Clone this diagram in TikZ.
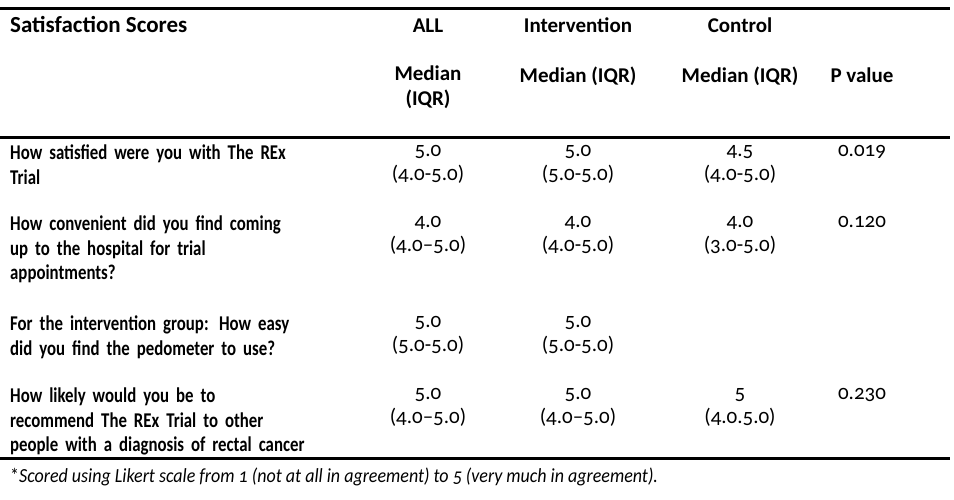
\documentclass[tikz,border=0pt]{standalone}
\usepackage{fontspec}
\setmainfont{Carlito}[Numbers=OldStyle]
\newfontfamily\qfont{Carlito}[FakeStretch=0.8,Numbers=OldStyle]
\newfontfamily\ffont{Carlito}[FakeStretch=0.9,Numbers=OldStyle]
\newcommand\fl[1]{\makebox[340pt][s]{#1}}
\begin{document}
\begin{tikzpicture}[x=1pt,y=-1pt,
  rule/.style={line width=3pt},
  q/.style={anchor=north west,inner sep=0,text width=340pt,align=left,font=\qfont\fontsize{21}{24.5}\selectfont\bfseries},
  h/.style={anchor=base,inner sep=0,align=center,font=\fontsize{21}{25}\selectfont\bfseries},
  v/.style={anchor=base,inner sep=0,align=center,font=\fontsize{21}{24.5}\selectfont}]
\useasboundingbox (0,0) rectangle (954,499);
\draw[rule] (0,8) -- (950,8);
\draw[rule] (0,137) -- (950,137);
\draw[rule] (0,458) -- (950,458);
\node[h,anchor=base west,font=\fontsize{23}{25}\selectfont\bfseries] (t) at (10,32) {Satisfaction Scores};
\node[h] (hall) at (428,32) {ALL};
\node[h] (hint) at (578,32) {Intervention};
\node[h] (hcon) at (740,32) {Control};
\node[h,anchor=north] (mall) at (428,66) {Median\\(IQR)};
\node[h] (mint) at (578,82) {Median (IQR)};
\node[h] (mcon) at (740,82) {Median (IQR)};
\node[h] (hp) at (862,82) {P value};
\node[q] (q1) at (10,145) {\fl{How satisfied were you with The REx}\\Trial};
\node[q] (q2) at (10,216) {\fl{How convenient did you find coming}\\\fl{up to the hospital for trial}\\appointments?};
\node[q] (q3) at (10,316) {\fl{For the intervention group: How easy}\\did you find the pedometer to use?};
\node[q] (q4) at (10,388) {\fl{How likely would you be to}\\\fl{recommend The REx Trial to other}\\people with a diagnosis of rectal cancer};
\node[v,anchor=north] (a1) at (428,145) {5.0\\(4.0-5.0)};
\node[v,anchor=north] (i1) at (578,145) {5.0\\(5.0-5.0)};
\node[v,anchor=north] (c1) at (740,145) {4.5\\(4.0-5.0)};
\node[v,anchor=north] (p1) at (862,145) {0.019};
\node[v,anchor=north] (a2) at (428,216) {4.0\\(4.0--5.0)};
\node[v,anchor=north] (i2) at (578,216) {4.0\\(4.0-5.0)};
\node[v,anchor=north] (c2) at (740,216) {4.0\\(3.0-5.0)};
\node[v,anchor=north] (p2) at (862,216) {0.120};
\node[v,anchor=north] (a3) at (428,316) {5.0\\(5.0-5.0)};
\node[v,anchor=north] (i3) at (578,316) {5.0\\(5.0-5.0)};
\node[v,anchor=north] (a4) at (428,388) {5.0\\(4.0--5.0)};
\node[v,anchor=north] (i4) at (578,388) {5.0\\(4.0--5.0)};
\node[v,anchor=north] (c4) at (740,388) {5\\(4.0.5.0)};
\node[v,anchor=north] (p4) at (862,388) {0.230};
\node[v,anchor=base west,font=\ffont\fontsize{20}{24}\selectfont] (fn) at (10,482) {*\textit{Scored using Likert scale from 1 (not at all in agreement) to 5 (very much in agreement).}};
\end{tikzpicture}
\end{document}
